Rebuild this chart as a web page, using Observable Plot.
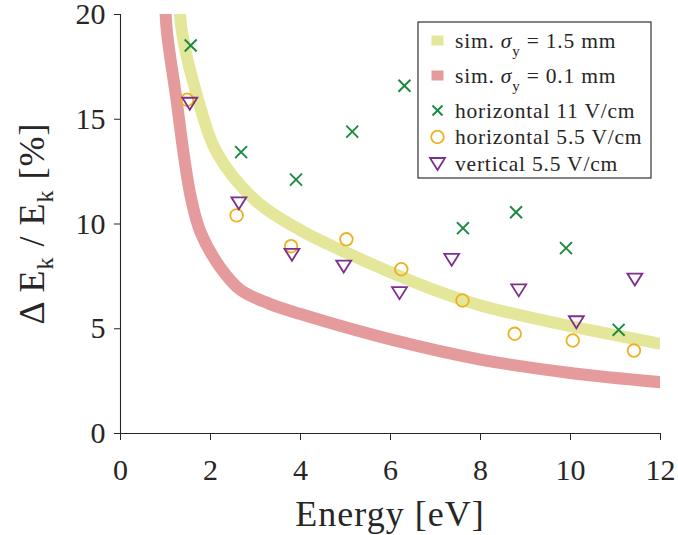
<!DOCTYPE html>
<html>
<head>
<meta charset="utf-8">
<script src="https://cdn.jsdelivr.net/npm/d3@7"></script>
<script src="https://cdn.jsdelivr.net/npm/@observablehq/plot@0.6"></script>
<style>
  body { margin: 0; background: #fff; font-family: "Liberation Serif", serif; }
  #chart { position: relative; width: 678px; height: 535px; }
  #chart > svg { position: absolute; left: 0; top: 0; }
  #overlay text { font-family: "Liberation Serif", serif; }
</style>
</head>
<body>
<div id="chart"></div>
<script>
// Simulated energy resolution, beam size sigma_y = 1.5 mm
const simWideEnergy = [1.31, 1.36, 1.73, 2.13, 3.0, 4.0, 5.0, 6.0, 7.0, 8.0, 10.0, 12.0];
const simWideRes    = [20.7, 19.24, 15.9, 13.45, 11.12, 9.7, 8.65, 7.7, 6.83, 6.11, 5.12, 4.28];
// Simulated energy resolution, beam size sigma_y = 0.1 mm
const simNarrowEnergy = [0.99, 1.03, 1.24, 1.40, 1.57, 1.78, 2.21, 2.67, 3.3, 4.0, 6.0, 8.0, 10.0, 12.0];
const simNarrowRes    = [20.7, 19.2, 16.0, 13.4, 11.2, 9.6, 7.95, 6.85, 6.2, 5.7, 4.49, 3.53, 2.89, 2.45];
// Measurements
const h11Energy = [1.56, 2.68, 3.90, 5.15, 6.31, 7.61, 8.79, 9.90, 11.07];
const h11Res    = [18.52, 13.43, 12.12, 14.41, 16.6, 9.80, 10.56, 8.85, 4.95];
const h55Energy = [1.48, 2.58, 3.79, 5.02, 6.24, 7.60, 8.76, 10.05, 11.41];
const h55Res    = [15.93, 10.41, 8.94, 9.27, 7.84, 6.35, 4.76, 4.44, 3.96];
const v55Energy = [1.54, 2.63, 3.81, 4.96, 6.20, 7.36, 8.85, 10.13, 11.43];
const v55Res    = [15.74, 10.99, 8.53, 7.97, 6.70, 8.29, 6.83, 5.31, 7.35];

const xTicks = [0, 2, 4, 6, 8, 10, 12];
const yTicks = [0, 5, 10, 15, 20];

const colors = {
  simWide: "#e4e699",
  simNarrow: "#e59b9b",
  h11: "#1a8a3e",
  h55: "#edb120",
  v55: "#7e2f8e"
};
const FONT = "Liberation Serif";

const rows = (xs, ys) => xs.map((e, i) => ({ energy: e, res: ys[i] }));

// downward-pointing triangle marker
const triangleDown = {
  draw(ctx, size) {
    const r = Math.sqrt(size / Math.PI);
    const hw = r * 1.1, hh = r * 0.88;
    ctx.moveTo(-hw, -hh);
    ctx.lineTo(hw, -hh);
    ctx.lineTo(0, hh);
    ctx.closePath();
  }
};

const W = 678, H = 535;
const M = { left: 120, right: 18, top: 14, bottom: 102 };

const chart = Plot.plot({
  width: W,
  height: H,
  marginLeft: M.left,
  marginRight: M.right,
  marginTop: M.top,
  marginBottom: M.bottom,
  style: { background: "#fff", color: "#262626", fontFamily: FONT, overflow: "visible" },
  x: { domain: [0, 12] },
  y: { domain: [0, 20] },
  marks: [
    Plot.line(rows(simWideEnergy, simWideRes), {
      x: "energy", y: "res", stroke: colors.simWide, strokeWidth: 12,
      curve: "catmull-rom", strokeLinecap: "butt", clip: true
    }),
    Plot.line(rows(simNarrowEnergy, simNarrowRes), {
      x: "energy", y: "res", stroke: colors.simNarrow, strokeWidth: 12,
      curve: "catmull-rom", strokeLinecap: "butt", clip: true
    }),
    Plot.dot(rows(h11Energy, h11Res), {
      x: "energy", y: "res", symbol: "times", r: 5.5, stroke: colors.h11, strokeWidth: 1.9
    }),
    Plot.dot(rows(h55Energy, h55Res), {
      x: "energy", y: "res", symbol: "circle", r: 6.3, stroke: colors.h55, fill: "none", strokeWidth: 1.8
    }),
    Plot.dot(rows(v55Energy, v55Res), {
      x: "energy", y: "res", symbol: triangleDown, r: 6.8, stroke: colors.v55, fill: "none", strokeWidth: 1.8
    }),
    Plot.ruleX([0], { stroke: "#262626", strokeWidth: 1.1 }),
    Plot.ruleY([0], { stroke: "#262626", strokeWidth: 1.1 }),
    Plot.axisX({ ticks: xTicks, tickSize: 7, tickPadding: 18, fontSize: 30, fontFamily: FONT, label: null, tickFormat: d => String(d) }),
    Plot.axisY({ ticks: yTicks, tickSize: 6, tickPadding: 9, fontSize: 30, fontFamily: FONT, label: null, tickFormat: d => String(d) })
  ]
});

const container = d3.select("#chart");
container.node().appendChild(chart);

// titles and legend sit in their own layer on top of the plot
const svg = container.append("svg")
  .attr("id", "overlay")
  .attr("width", W).attr("height", H)
  .style("pointer-events", "none");

svg.append("text")
  .attr("x", (M.left + W - M.right) / 2)
  .attr("y", 526)
  .attr("text-anchor", "middle")
  .attr("font-size", 36)
  .attr("letter-spacing", 1)
  .attr("fill", "#262626")
  .text("Energy [eV]");

const yTitle = svg.append("text")
  .attr("transform", `translate(44,${(M.top + H - M.bottom) / 2}) rotate(-90)`)
  .attr("text-anchor", "middle")
  .attr("font-size", 36)
  .attr("letter-spacing", 1)
  .attr("fill", "#262626");
yTitle.append("tspan").text("\u0394 E");
yTitle.append("tspan").attr("font-size", 24).attr("dy", 9).text("k");
yTitle.append("tspan").attr("dy", -9).text(" / E");
yTitle.append("tspan").attr("font-size", 24).attr("dy", 9).text("k");
yTitle.append("tspan").attr("dy", -9).text(" [%]");

const legend = svg.append("g");
legend.append("rect")
  .attr("x", 418).attr("y", 22).attr("width", 233).attr("height", 156)
  .attr("fill", "#fff").attr("stroke", "#333").attr("stroke-width", 1.2);

const legendRows = [
  { kind: "band", color: colors.simWide, value: "1.5 mm", cy: 40.5 },
  { kind: "band", color: colors.simNarrow, value: "0.1 mm", cy: 75.5 },
  { kind: "times", color: colors.h11, text: "horizontal 11 V/cm", cy: 110.5 },
  { kind: "circle", color: colors.h55, text: "horizontal 5.5 V/cm", cy: 137 },
  { kind: "triangle", color: colors.v55, text: "vertical 5.5 V/cm", cy: 164 }
];
const swatchX = 437.5, textX = 455;

for (const row of legendRows) {
  const g = legend.append("g").attr("transform", `translate(${swatchX},${row.cy})`);
  if (row.kind === "band") {
    g.append("rect").attr("x", -6).attr("y", -5).attr("width", 12).attr("height", 10).attr("fill", row.color);
  } else if (row.kind === "times") {
    g.append("path").attr("d", "M-5,-5L5,5M-5,5L5,-5").attr("stroke", row.color).attr("stroke-width", 1.9).attr("fill", "none");
  } else if (row.kind === "circle") {
    g.append("circle").attr("r", 6.3).attr("stroke", row.color).attr("stroke-width", 1.8).attr("fill", "none");
  } else {
    g.append("path").attr("d", "M-7.5,-6L7.5,-6L0,6Z").attr("stroke", row.color).attr("stroke-width", 1.8).attr("fill", "none");
  }
  const t = legend.append("text")
    .attr("x", textX).attr("y", row.cy + 7)
    .attr("font-size", 21.5).attr("letter-spacing", 0.8).attr("fill", "#262626");
  if (row.kind === "band") {
    t.append("tspan").text("sim. ");
    t.append("tspan").attr("font-style", "italic").text("\u03c3");
    t.append("tspan").attr("font-size", 15).attr("dy", 8).text("y");
    t.append("tspan").attr("dy", -8).text(" = " + row.value);
  } else {
    t.text(row.text);
  }
}

d3.selectAll("svg text").attr("font-family", FONT);
</script>
</body>
</html>
